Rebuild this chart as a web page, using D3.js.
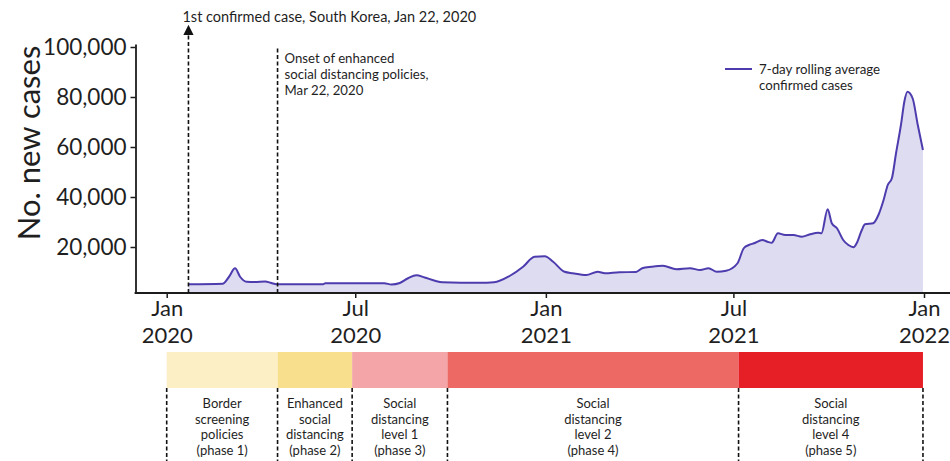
<!DOCTYPE html>
<html>
<head>
<meta charset="utf-8">
<script src="https://cdn.jsdelivr.net/npm/d3@7"></script>
<style>
  body { margin: 0; background: #fff; }
  svg { display: block; }
  text { font-family: Lato, "Open Sans", sans-serif; fill: #1f1f1f; }
</style>
</head>
<body>
<svg id="chart" width="950" height="461"></svg>
<script>
// 7-day rolling average of confirmed cases
const caseDates = [
  "2020-01-22","2020-02-24","2020-03-01","2020-03-07","2020-03-12","2020-03-18","2020-03-26",
  "2020-04-05","2020-04-11","2020-04-16","2020-05-31","2020-06-02","2020-07-29","2020-08-05",
  "2020-08-13","2020-08-21","2020-08-29","2020-09-06","2020-09-16","2020-09-23","2020-10-29",
  "2020-11-12","2020-11-27","2020-12-10","2020-12-21","2020-12-31","2021-01-08","2021-01-19",
  "2021-01-27","2021-02-09","2021-02-20","2021-02-27","2021-03-13","2021-03-29","2021-04-04",
  "2021-04-13","2021-04-24","2021-05-07","2021-05-20","2021-05-30","2021-06-07","2021-06-15",
  "2021-06-24","2021-07-05","2021-07-11","2021-07-16","2021-07-21","2021-07-29","2021-08-03",
  "2021-08-07","2021-08-13","2021-08-20","2021-08-28","2021-09-05","2021-09-13","2021-09-21",
  "2021-09-24","2021-09-30","2021-10-04","2021-10-09","2021-10-15","2021-10-20","2021-10-25",
  "2021-10-28","2021-11-02","2021-11-05","2021-11-13","2021-11-18","2021-11-23","2021-11-27",
  "2021-12-01","2021-12-05","2021-12-10","2021-12-13","2021-12-16","2021-12-21","2021-12-26",
  "2021-12-31"
];
const caseValues = [
  5100, 5300, 8000, 11500, 8000, 6100, 6000,
  6200, 5600, 5100, 5100, 5500, 5500, 5000,
  5600, 7500, 8700, 7800, 6500, 5900, 5700,
  5900, 8400, 12100, 16100, 16300, 14100, 10100,
  9500, 8800, 10100, 9500, 9900, 10000, 11500,
  12100, 12500, 11100, 11500, 10800, 11500, 10100,
  10500, 13500, 19500, 20800, 21500, 22800, 22100,
  21700, 25500, 24800, 24800, 24100, 25100, 25700,
  25500, 35100, 29500, 27500, 22800, 20800, 19900,
  21500, 26800, 29100, 29500, 32800, 38800, 44800,
  47500, 57500, 69500, 78100, 82100, 79500, 68800,
  58800
];

const xTickDates = ["2020-01-01","2020-07-01","2021-01-01","2021-07-01","2022-01-01"];
const xTickMonths = ["Jan","Jul","Jan","Jul","Jan"];
const xTickYears = ["2020","2020","2021","2021","2022"];
const yTickValues = [20000, 40000, 60000, 80000, 100000];

// Policy phases
const phaseStarts = ["2020-01-01","2020-04-17","2020-06-28","2020-09-28","2021-07-06"];
const phaseEnds   = ["2020-04-17","2020-06-28","2020-09-28","2021-07-06","2021-12-31"];
const phaseColors = ["#fcefc6","#f8df8e","#f3a5a8","#ec6a63","#e61f27"];
const phaseLabels = [
  ["Border","screening","policies","(phase 1)"],
  ["Enhanced","social","distancing","(phase 2)"],
  ["Social","distancing","level 1","(phase 3)"],
  ["Social","distancing","level 2","(phase 4)"],
  ["Social","distancing","level 4","(phase 5)"]
];

const firstCaseDate = "2020-01-22";
const firstCaseText = "1st confirmed case, South Korea, Jan 22, 2020";
const onsetText = ["Onset of enhanced","social distancing policies,","Mar 22, 2020"];
const legendText = ["7-day rolling average","confirmed cases"];
const yTitle = "No. new cases";

const parse = d3.utcParse("%Y-%m-%d");
const series = caseDates.map((d, i) => ({ date: parse(d), value: caseValues[i] }));

const svg = d3.select("#chart");
const axisLeftX = 135.5;
const axisBottomY = 293;
const ink = "#1c1c1c";

const x = d3.scaleUtc()
  .domain([parse("2020-01-01"), parse("2022-01-01")])
  .range([166.7, 924]);
const y = d3.scaleLinear()
  .domain([1600, 101200])
  .range([axisBottomY, 44]);

const lineColor = "#4c3cae";

// arrow marker for the first-case pointer
svg.append("defs").append("marker")
  .attr("id", "arrowhead")
  .attr("viewBox", "0 0 10 10")
  .attr("refX", 5).attr("refY", 5)
  .attr("markerWidth", 6.5).attr("markerHeight", 6.5)
  .attr("orient", "auto-start-reverse")
  .append("path")
  .attr("d", "M0,0 L10,5 L0,10 z")
  .attr("fill", "#111");

// area under the curve + line
const area = d3.area()
  .x(d => x(d.date))
  .y0(axisBottomY)
  .y1(d => y(d.value))
  .curve(d3.curveMonotoneX);
const line = d3.line()
  .x(d => x(d.date))
  .y(d => y(d.value))
  .curve(d3.curveMonotoneX);

svg.append("path")
  .datum(series)
  .attr("d", area)
  .attr("fill", "#dad8ef")
  .attr("opacity", 0.9);

svg.append("path")
  .datum(series)
  .attr("d", line)
  .attr("fill", "none")
  .attr("stroke", lineColor)
  .attr("stroke-width", 2)
  .attr("stroke-linejoin", "round");

// Y axis
const yAxis = d3.axisLeft(y)
  .tickValues(yTickValues)
  .tickFormat(d3.format(","))
  .tickSize(5)
  .tickSizeOuter(0)
  .tickPadding(4);
const gy = svg.append("g")
  .attr("transform", `translate(${axisLeftX},0)`)
  .call(yAxis);
gy.select(".domain").attr("stroke", ink).attr("stroke-width", 1.8);
gy.selectAll(".tick line").attr("stroke", ink).attr("stroke-width", 1.5);
gy.selectAll(".tick text")
  .attr("font-family", "Lato")
  .attr("font-size", 22.5)
  .attr("fill", ink);

// X axis
const xAxis = d3.axisBottom(x)
  .tickValues(xTickDates.map(parse))
  .tickFormat("")
  .tickSize(5)
  .tickSizeOuter(0);
const gx = svg.append("g")
  .attr("transform", `translate(0,${axisBottomY})`)
  .call(xAxis);
gx.select(".domain").remove();
gx.append("line")
  .attr("x1", axisLeftX - 0.9).attr("x2", 950)
  .attr("y1", 0).attr("y2", 0)
  .attr("stroke", ink).attr("stroke-width", 1.8);
gx.selectAll(".tick line").attr("stroke", ink).attr("stroke-width", 1.5);
gx.selectAll(".tick").each(function (d, i) {
  const g = d3.select(this);
  g.append("text")
    .attr("text-anchor", "middle")
    .attr("font-size", 22)
    .attr("fill", ink)
    .attr("y", 23)
    .text(xTickMonths[i]);
  g.append("text")
    .attr("text-anchor", "middle")
    .attr("font-size", 22)
    .attr("fill", ink)
    .attr("y", 49.5)
    .text(xTickYears[i]);
});

// Y axis title
svg.append("text")
  .attr("transform", "translate(40,143) rotate(-90)")
  .attr("text-anchor", "middle")
  .attr("font-size", 31)
  .attr("fill", ink)
  .text(yTitle);

// First-case marker with arrow
const fx = x(parse(firstCaseDate));
svg.append("line")
  .attr("x1", fx).attr("x2", fx)
  .attr("y1", axisBottomY).attr("y2", 30)
  .attr("stroke", "#111").attr("stroke-width", 1.6)
  .attr("stroke-dasharray", "4,2.5")
  .attr("marker-end", "url(#arrowhead)");
svg.append("text")
  .attr("x", fx - 6).attr("y", 22)
  .attr("font-size", 14.5)
  .text(firstCaseText);

// Enhanced social distancing onset marker (start of phase 2)
const ox = x(parse(phaseStarts[1]));
svg.append("line")
  .attr("x1", ox).attr("x2", ox)
  .attr("y1", axisBottomY).attr("y2", 48)
  .attr("stroke", "#111").attr("stroke-width", 1.6)
  .attr("stroke-dasharray", "4,2.5");
onsetText.forEach((t, i) => {
  svg.append("text")
    .attr("x", ox + 7)
    .attr("y", 63 + i * 15.8)
    .attr("font-size", 13.2)
    .text(t);
});

// Legend
svg.append("line")
  .attr("x1", 725).attr("x2", 752)
  .attr("y1", 69).attr("y2", 69)
  .attr("stroke", lineColor).attr("stroke-width", 2);
legendText.forEach((t, i) => {
  svg.append("text")
    .attr("x", 759)
    .attr("y", 74 + i * 16)
    .attr("font-size", 13.3)
    .text(t);
});

// Phase bars
const phases = phaseStarts.map((s, i) => ({
  start: parse(s), end: parse(phaseEnds[i]), color: phaseColors[i], label: phaseLabels[i]
}));
const barTop = 352, barH = 36;
svg.append("g").selectAll("rect")
  .data(phases)
  .join("rect")
  .attr("x", d => x(d.start))
  .attr("y", barTop)
  .attr("width", d => x(d.end) - x(d.start))
  .attr("height", barH)
  .attr("fill", d => d.color);

// Dashed phase boundaries below the bars
const boundaries = [phaseStarts[0], ...phaseEnds].map(parse);
svg.append("g").selectAll("line")
  .data(boundaries)
  .join("line")
  .attr("x1", d => x(d)).attr("x2", d => x(d))
  .attr("y1", barTop + barH).attr("y2", 461)
  .attr("stroke", "#111").attr("stroke-width", 1.6)
  .attr("stroke-dasharray", "4,2.5");

// Phase labels, one text per line
phases.forEach(p => {
  const cx = (x(p.start) + x(p.end)) / 2;
  p.label.forEach((t, i) => {
    svg.append("text")
      .attr("x", cx)
      .attr("y", 408 + i * 15.7)
      .attr("text-anchor", "middle")
      .attr("font-size", 13)
      .text(t);
  });
});
</script>
</body>
</html>
